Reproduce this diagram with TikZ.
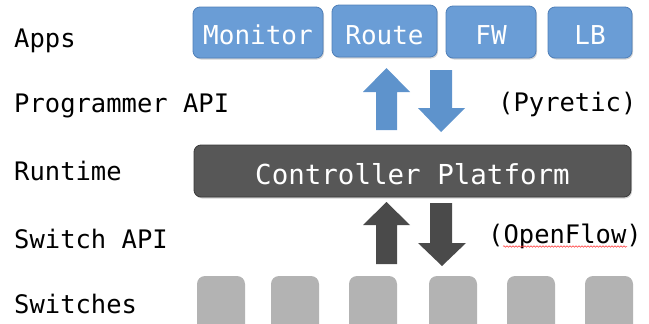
\documentclass[tikz,border=0pt]{standalone}
\usepackage{fontspec}
\setmonofont{DejaVu Sans Mono}
\usetikzlibrary{shadows,decorations.pathmorphing}
\definecolor{appblue}{HTML}{6A9DD6}
\definecolor{appedge}{HTML}{4F7FB8}
\definecolor{arrblue}{HTML}{5E93CC}
\definecolor{ctrlgray}{HTML}{575757}
\definecolor{ctrledge}{HTML}{3A3A3A}
\definecolor{arrgray}{HTML}{4A4A4A}
\definecolor{swgray}{HTML}{B3B3B3}
\begin{document}
\begin{tikzpicture}[x=1pt,y=-1pt,
  lbl/.style={anchor=base west,inner sep=0pt,font=\fontsize{25.5}{28}\ttfamily},
  appbox/.style={draw=appedge,line width=0.8pt,fill=appblue,rounded corners=7pt,
     drop shadow={shadow xshift=1pt,shadow yshift=-1.5pt,opacity=0.35}},
  apptext/.style={anchor=base,inner sep=0pt,text=white,font=\fontsize{26}{28}\ttfamily},
  ctrlbox/.style={draw=ctrledge,line width=0.8pt,fill=ctrlgray,rounded corners=7pt,
     drop shadow={shadow xshift=1pt,shadow yshift=-1.5pt,opacity=0.35}},
  blockarrow/.style={draw=none},
  swbox/.style={fill=swgray,rounded corners=8pt}]
\useasboundingbox (0,0) rectangle (649,324);
\clip (0,0) rectangle (649,324);
% left labels
\node[lbl] (apps) at (14,47) {Apps};
\node[lbl] (papi) at (14,112) {Programmer API};
\node[lbl] (rt) at (14,180) {Runtime};
\node[lbl] (sapi) at (14,248) {Switch API};
\node[lbl] (sws) at (14,313) {Switches};
% apps
\path[appbox] (193,7) rectangle (323,58);
\path[appbox] (332,5) rectangle (437,57);
\path[appbox] (446,6) rectangle (536,58);
\path[appbox] (548,7) rectangle (632,58);
\node[apptext] (mon) at (258,45) {Monitor};
\node[apptext] (route) at (384.5,44) {Route};
\node[apptext] (fw) at (491,45) {FW};
\node[apptext] (lb) at (590,45) {LB};
% pyretic
\node[lbl] (pyr) at (498,111) {(Pyretic)};
% blue arrows
\fill[arrblue] (386.5,68) -- (410,92) -- (397,92) -- (397,130) -- (376,130) -- (376,92) -- (363,92) -- cycle;
\fill[arrblue] (441,132) -- (465,108) -- (452,108) -- (452,70) -- (430,70) -- (430,108) -- (418,108) -- cycle;
% controller
\path[ctrlbox] (194,145) rectangle (631,197);
\node[anchor=base,inner sep=0pt,text=white,font=\fontsize{27.5}{30}\ttfamily] (ctrl) at (412.5,184) {Controller Platform};
% dark arrows
\fill[arrgray] (386.5,202) -- (410,225) -- (397,225) -- (397,264) -- (376,264) -- (376,225) -- (363,225) -- cycle;
\fill[arrgray] (442,266) -- (466,243) -- (452,243) -- (452,203) -- (430,203) -- (430,243) -- (418,243) -- cycle;
% openflow
\node[lbl] (of) at (488,243) {(OpenFlow)};
\draw[red!80,line width=0.5pt,decorate,decoration={snake,amplitude=0.8pt,segment length=3pt}] (503,246.5) -- (627,246.5);
% switches
\foreach \x/\n in {197/1,271/2,349/3,429/4,507/5,585/6}{
  \path[swbox] (\x,276) rectangle ++(48,58);
}
\end{tikzpicture}
\end{document}
